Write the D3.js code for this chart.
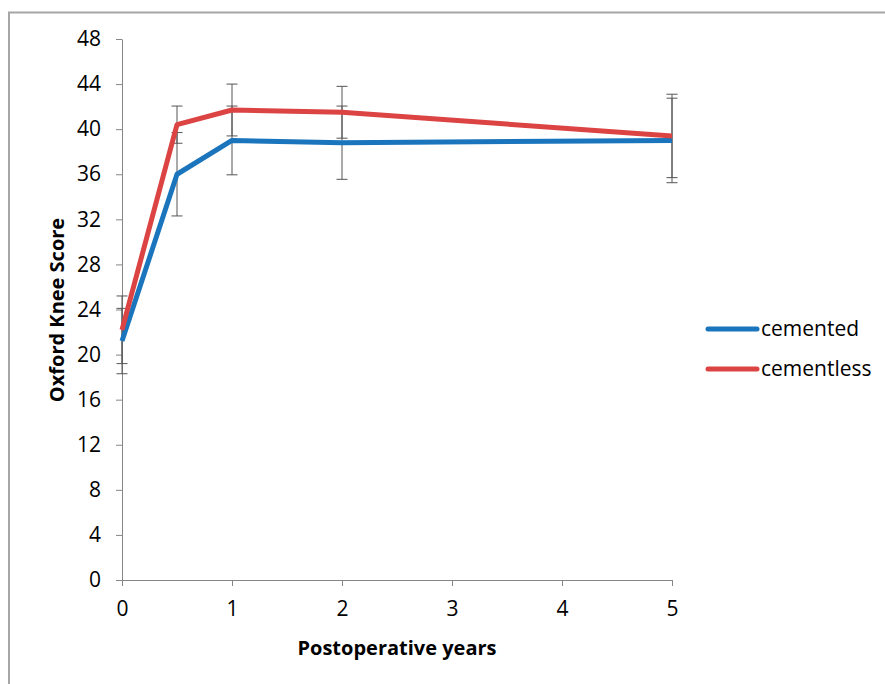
<!DOCTYPE html>
<html>
<head>
<meta charset="utf-8">
<script src="https://cdn.jsdelivr.net/npm/d3@7"></script>
<style>
  body { margin: 0; background: #fff; }
  svg { display: block; font-family: "Open Sans", sans-serif; }
  .axis path, .axis line { stroke: #868686; }
  .axis text { font-family: "Open Sans", sans-serif; font-size: 21px; fill: #000; }
</style>
</head>
<body>
<div id="chart"></div>
<script>
// postoperative time points (years)
var years = [0, 0.5, 1, 2, 5];

// mean Oxford Knee Score and standard deviation per group
var cemented = [21.2, 36.0, 39.0, 38.8, 39.0];
var cementedSD = [2.9, 3.7, 3.05, 3.25, 3.75];
var cementless = [22.2, 40.4, 41.7, 41.5, 39.4];
var cementlessSD = [3.0, 1.65, 2.3, 2.3, 3.7];

var seriesNames = ["cemented", "cementless"];
var xTicks = [0, 1, 2, 3, 4, 5];
var yTicks = [0, 4, 8, 12, 16, 20, 24, 28, 32, 36, 40, 44, 48];

var W = 885, H = 684;
var colors = { cemented: "#1b75bc", cementless: "#dc4444" };

var svg = d3.select("#chart").append("svg")
  .attr("width", W)
  .attr("height", H);

// outer frame, runs off the right and bottom edges
svg.append("rect")
  .attr("x", 9).attr("y", 12.5)
  .attr("width", W).attr("height", H)
  .attr("fill", "none")
  .attr("stroke", "#a6a6a6")
  .attr("stroke-width", 2);

var x = d3.scaleLinear().domain([0, 5]).range([122, 672]);
var y = d3.scaleLinear().domain([0, 48]).range([580, 39]);

svg.append("g")
  .attr("class", "axis")
  .attr("transform", "translate(0," + y(0) + ")")
  .call(d3.axisBottom(x).tickValues(xTicks).tickFormat(d3.format("d"))
    .tickSize(6).tickSizeOuter(0).tickPadding(15));

svg.append("g")
  .attr("class", "axis")
  .attr("transform", "translate(" + x(0) + ",0)")
  .call(d3.axisLeft(y).tickValues(yTicks).tickSize(6).tickSizeOuter(0).tickPadding(15));

// rebuild series as point lists
var series = seriesNames.map(function(name) {
  var means = name === "cemented" ? cemented : cementless;
  var sds = name === "cemented" ? cementedSD : cementlessSD;
  return {
    name: name,
    points: years.map(function(t, i) { return { t: t, m: means[i], sd: sds[i] }; })
  };
});

// error bars
var capW = 5.5;
series.forEach(function(s) {
  var g = svg.append("g").attr("stroke", "#555").attr("stroke-width", 1);
  s.points.forEach(function(p) {
    var px = x(p.t);
    g.append("line")
      .attr("x1", px).attr("x2", px)
      .attr("y1", y(p.m - p.sd)).attr("y2", y(p.m + p.sd));
    [p.m - p.sd, p.m + p.sd].forEach(function(v) {
      g.append("line")
        .attr("x1", px - capW).attr("x2", px + capW)
        .attr("y1", y(v)).attr("y2", y(v));
    });
  });
});

var line = d3.line()
  .x(function(d) { return x(d.t); })
  .y(function(d) { return y(d.m); });

series.forEach(function(s) {
  svg.append("path")
    .datum(s.points)
    .attr("d", line)
    .attr("fill", "none")
    .attr("stroke", colors[s.name])
    .attr("stroke-width", 5)
    .attr("stroke-linejoin", "round");
});

// axis titles
svg.append("text")
  .attr("x", 397).attr("y", 655)
  .attr("text-anchor", "middle")
  .attr("font-weight", "bold")
  .attr("font-size", 20)
  .text("Postoperative years");

svg.append("text")
  .attr("transform", "translate(64,310) rotate(-90)")
  .attr("text-anchor", "middle")
  .attr("font-weight", "bold")
  .attr("font-size", 20)
  .text("Oxford Knee Score");

// legend
var legend = svg.append("g");
seriesNames.forEach(function(name, i) {
  var ly = 329 + i * 40;
  legend.append("line")
    .attr("x1", 708).attr("x2", 757)
    .attr("y1", ly).attr("y2", ly)
    .attr("stroke", colors[name])
    .attr("stroke-width", 5)
    .attr("stroke-linecap", "round");
  legend.append("text")
    .attr("x", 761).attr("y", ly + 7)
    .attr("font-size", 21)
    .text(name);
});
</script>
</body>
</html>
